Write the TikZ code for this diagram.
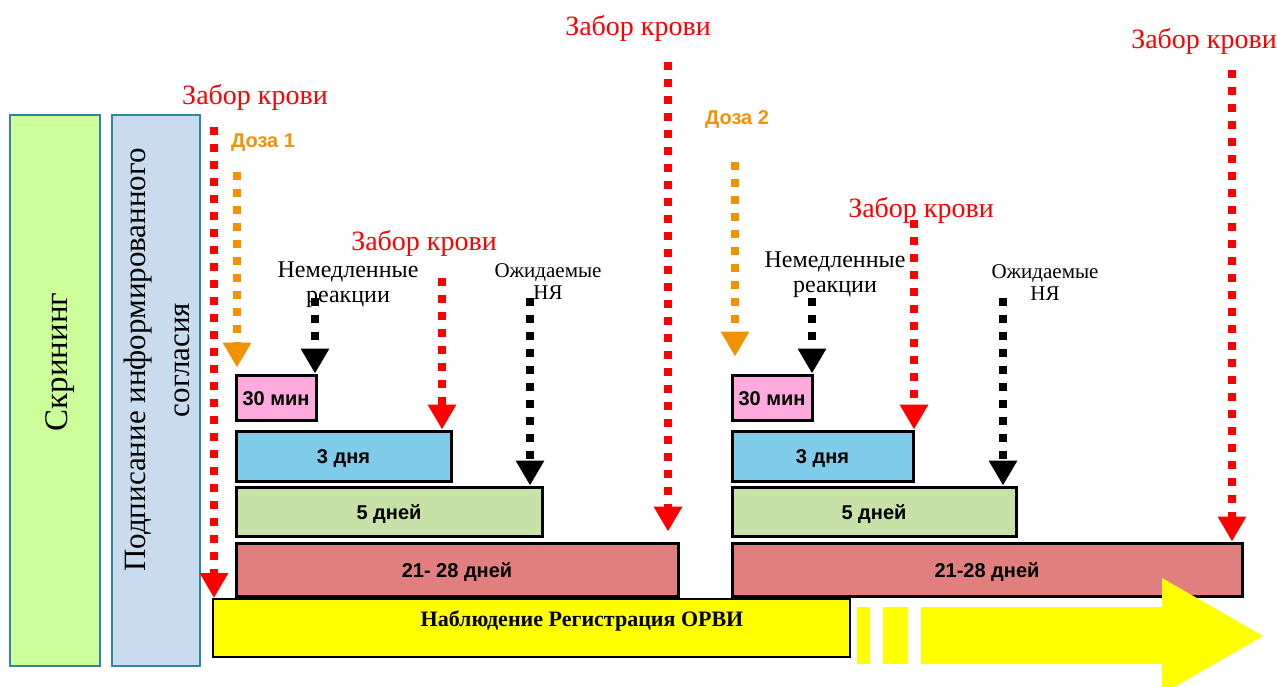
\documentclass[tikz,border=0pt]{standalone}
\usepackage{fontspec}
\setmainfont{Liberation Serif}
\setsansfont{Liberation Sans}
\usetikzlibrary{arrows.meta}

\definecolor{scrgreen}{HTML}{CCFF99}
\definecolor{sgnblue}{HTML}{C9DCEF}
\definecolor{sideedge}{HTML}{31859C}
\definecolor{minpink}{HTML}{FFAADF}
\definecolor{dayblue}{HTML}{7FCBEA}
\definecolor{daygreen}{HTML}{C6E2A6}
\definecolor{dayred}{HTML}{E07F7E}
\definecolor{doseorange}{HTML}{F39200}
\definecolor{obsyellow}{HTML}{FFFF00}

\begin{document}
\begin{tikzpicture}[x=0.5pt,y=-0.5pt,
    sidebox/.style={draw=sideedge, line width=1pt, inner sep=0pt, minimum width=#1, minimum height=275.5pt},
    period/.style={draw, line width=1.5pt, inner sep=0pt, minimum height=#1, text height=9.5pt, text depth=2pt,
        font=\sffamily\bfseries\fontsize{10}{12}\selectfont},
    dotarrow/.style={line width=4pt, dash pattern=on 4pt off 4.5pt, -{Triangle[width=13.5pt,length=12.5pt]}},
    bloodlbl/.style={text=red, font=\fontsize{14}{16}\selectfont, inner sep=0pt},
    doselbl/.style={text=doseorange, font=\sffamily\bfseries\fontsize{10}{12}\selectfont, inner sep=0pt},
    notelbl/.style={align=center, inner sep=0pt}]
    \clip (0,0) rectangle (1277,686);

    % screening and consent
    \node[sidebox=45pt, fill=scrgreen] (scr) at (55,390.5) {};
    \node[sidebox=44pt, fill=sgnblue] (sgn) at (156,390.5) {};
    \node[rotate=90, font=\fontsize{16.5}{20}\selectfont] (scrtext) at (60,362) {Скрининг};
    \node[rotate=90, align=center, font=\fontsize{15.5}{22}\selectfont] (sgntext) at (157,360)
        {Подписание информированного\\согласия};

    % dose 1
    \node[period=22.5pt, minimum width=40pt, fill=minpink] (min1) at (276,397.5) {30 мин};
    \node[period=25pt, minimum width=107.5pt, fill=dayblue] (day3a) at (343.5,456) {3 дня};
    \node[period=24.5pt, minimum width=153pt, fill=daygreen] (day5a) at (389,511.5) {5 дней};
    \node[period=26.5pt, minimum width=221pt, fill=dayred] (day28a) at (457,569.5) {21- 28 дней};

    % dose 2
    \node[period=22.5pt, minimum width=40pt, fill=minpink] (min2) at (772,397.5) {30 мин};
    \node[period=25pt, minimum width=90.5pt, fill=dayblue] (day3b) at (822.5,456) {3 дня};
    \node[period=24.5pt, minimum width=142pt, fill=daygreen] (day5b) at (874,511.5) {5 дней};
    \node[period=26.5pt, minimum width=255pt, fill=dayred] (day28b) at (987,569.5) {21-28 дней};

    % observation
    \node[draw, line width=1pt, fill=obsyellow, minimum width=318.5pt, minimum height=29pt, inner sep=0pt] (obs) at (531.5,628) {};
    \node[font=\bfseries\fontsize{11}{13}\selectfont, inner sep=0pt] (obstext) at (582,621) {Наблюдение Регистрация ОРВИ};
    \fill[obsyellow] (857,607) rectangle (870,664);
    \fill[obsyellow] (883,607) rectangle (908,664);
    \fill[obsyellow] (921,607) -- (1162,607) -- (1162,578) -- (1263,636)
        -- (1162,694) -- (1162,664) -- (921,664) -- cycle;

    % labels
    \node[bloodlbl] (blood1) at (255,97) {Забор крови};
    \node[bloodlbl] (blood2) at (424,243) {Забор крови};
    \node[bloodlbl] (blood3) at (638,28) {Забор крови};
    \node[bloodlbl] (blood4) at (921,210) {Забор крови};
    \node[bloodlbl] (blood5) at (1204,41) {Забор крови};
    \node[doselbl] (dose1) at (263,143) {Доза 1};
    \node[doselbl] (dose2) at (737,120) {Доза 2};
    \node[notelbl, font=\fontsize{12}{12.5}\selectfont] (imm1) at (348,285) {Немедленные\\реакции};
    \node[notelbl, font=\fontsize{12}{12.5}\selectfont] (imm2) at (835,275) {Немедленные\\реакции};
    \node[notelbl, font=\fontsize{10.5}{11}\selectfont] (exp1) at (548,282) {Ожидаемые\\НЯ};
    \node[notelbl, font=\fontsize{10.5}{11}\selectfont] (exp2) at (1045,283) {Ожидаемые\\НЯ};

    % arrow starts
    \coordinate (rA) at (214,127);
    \coordinate (oA) at (237,172);
    \coordinate (kA) at (315,298);
    \coordinate (rB) at (442,278);
    \coordinate (kB) at (530,298);
    \coordinate (rC) at (668,62);
    \coordinate (oB) at (735,162);
    \coordinate (kC) at (812,298);
    \coordinate (rD) at (914,220);
    \coordinate (kD) at (1003,298);
    \coordinate (rE) at (1232,70);

    \draw[dotarrow, red] (rA) -- (rA |- obs.north);
    \draw[dotarrow, doseorange] (oA) -- ([yshift=3pt]oA |- min1.north);
    \draw[dotarrow, black] (kA) -- (kA |- min1.north);
    \draw[dotarrow, red] (rB) -- (rB |- day3a.north);
    \draw[dotarrow, black] (kB) -- (kB |- day5a.north);
    \draw[dotarrow, red] (rC) -- ([yshift=5pt]rC |- day28a.north);
    \draw[dotarrow, doseorange] (oB) -- ([yshift=8.5pt]oB |- min2.north);
    \draw[dotarrow, black] (kC) -- (kC |- min2.north);
    \draw[dotarrow, red] (rD) -- (rD |- day3b.north);
    \draw[dotarrow, black] (kD) -- (kD |- day5b.north);
    \draw[dotarrow, red] (rE) -- (rE |- day28b.north);
\end{tikzpicture}
\end{document}
